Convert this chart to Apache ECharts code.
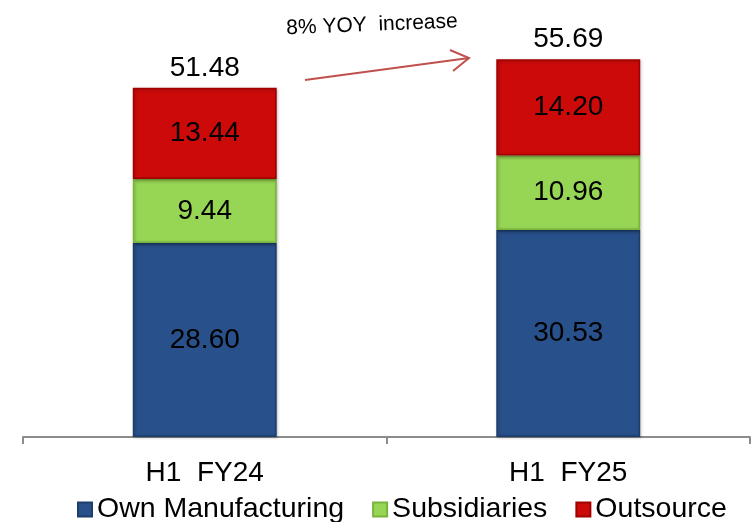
<!DOCTYPE html>
<html>
<head>
<meta charset="utf-8">
<script src="https://cdn.jsdelivr.net/npm/echarts@6/dist/echarts.min.js"></script>
<style>html,body{margin:0;padding:0;background:#fff}#c{width:753px;height:522px}</style>
</head>
<body>
<div id="c"></div>
<script>
var categories = ['H1  FY24', 'H1  FY25'];
var ownManufacturing = [28.60, 30.53];
var subsidiaries = [9.44, 10.96];
var outsource = [13.44, 14.20];
var totals = [51.48, 55.69];
var seriesNames = ['Own Manufacturing', 'Subsidiaries', 'Outsource'];
var annotationText = '8% YOY  increase';

var FONT = "'Liberation Sans', Arial, sans-serif";
var chart = echarts.init(document.getElementById('c'), null, {renderer: 'canvas'});

function seg(name, data, color, border) {
  return {
    name: name, type: 'bar', stack: 'total', data: data, barWidth: '39.6%',
    itemStyle: {
      color: color, borderColor: border, borderWidth: 1.5,
      shadowColor: 'rgba(0,0,0,0.25)', shadowBlur: 3, shadowOffsetX: 1, shadowOffsetY: 1
    },
    label: {show: true, position: 'inside', color: '#000', fontSize: 28, fontFamily: FONT,
      formatter: function (p) { return p.value.toFixed(2); }}
  };
}

chart.setOption({
  animation: false,
  grid: {left: 23, right: 3, top: 30, bottom: 85},
  xAxis: {
    type: 'category', data: categories,
    axisLine: {lineStyle: {color: '#8c8c8c', width: 2}},
    axisTick: {show: true, length: 7, lineStyle: {color: '#8c8c8c', width: 2}},
    axisLabel: {color: '#000', fontSize: 28, fontFamily: FONT, margin: 22}
  },
  yAxis: {type: 'value', min: 0, max: 60, show: false},
  legend: {
    data: seriesNames, left: 72, top: 490, itemWidth: 14, itemHeight: 14, itemGap: 28,
    icon: 'rect',
    textStyle: {color: '#000', fontSize: 28.5, fontFamily: FONT}
  },
  series: [
    seg(seriesNames[0], ownManufacturing, '#28508a', '#1d3d6b'),
    seg(seriesNames[1], subsidiaries, '#97d655', '#79b33c'),
    seg(seriesNames[2], outsource, '#cc0a0a', '#a00000'),
    {
      name: 'Total', type: 'bar', stack: 'total', barWidth: '39.6%',
      data: totals.map(function () { return 0; }),
      itemStyle: {color: 'transparent'},
      label: {show: true, position: 'top', distance: 6, color: '#000', fontSize: 28, fontFamily: FONT,
        formatter: function (p) { return totals[p.dataIndex].toFixed(2); }}
    }
  ],
  graphic: [
    {type: 'line', shape: {x1: 305, y1: 80, x2: 469, y2: 58},
      style: {stroke: '#c0504d', lineWidth: 2}},
    {type: 'polyline', shape: {points: [[450, 50], [469, 58], [453, 71]]},
      style: {stroke: '#c0504d', lineWidth: 2, fill: null}},
    {type: 'text', x: 372, y: 25, rotation: 2.3 * Math.PI / 180,
      style: {text: annotationText, fill: '#000', fontSize: 21, fontFamily: FONT,
        align: 'center', verticalAlign: 'middle'}}
  ]
});
</script>
</body>
</html>
